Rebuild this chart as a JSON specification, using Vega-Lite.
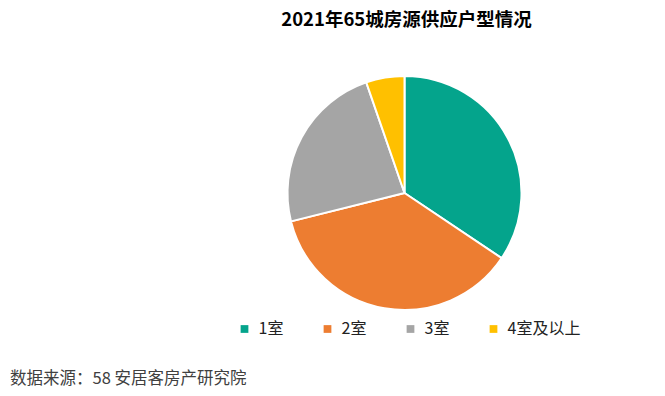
{
  "$schema": "https://vega.github.io/schema/vega-lite/v6.json",
  "autosize": {"type": "none"},
  "width": 330,
  "height": 234,
  "padding": {"left": 239.5, "top": 76, "right": 95.5, "bottom": 86},
  "background": "white",
  "config": {"view": {"stroke": null}, "font": "Noto Sans CJK SC"},
  "title": {
    "text": "2021年65城房源供应户型情况",
    "fontSize": 18.5,
    "fontWeight": "bold",
    "font": "Noto Sans CJK SC",
    "color": "#000000",
    "anchor": "middle",
    "frame": "group",
    "dx": 2,
    "offset": 43
  },
  "layer": [
    {
      "data": {
        "values": [
          {"type": "1室", "share": 34.4, "order": 1},
          {"type": "2室", "share": 36.7, "order": 2},
          {"type": "3室", "share": 23.6, "order": 3},
          {"type": "4室及以上", "share": 5.3, "order": 4}
        ]
      },
      "mark": {"type": "arc", "stroke": "white", "strokeWidth": 2},
      "encoding": {
        "theta": {"field": "share", "type": "quantitative", "stack": true},
        "order": {"field": "order", "type": "quantitative"},
        "color": {
          "field": "type",
          "type": "nominal",
          "sort": ["1室", "2室", "3室", "4室及以上"],
          "scale": {
            "domain": ["1室", "2室", "3室", "4室及以上"],
            "range": ["#04A48C", "#ED7D31", "#A5A5A5", "#FFC000"]
          },
          "legend": {
            "title": null,
            "orient": "none",
            "direction": "horizontal",
            "legendX": -3,
            "legendY": 245,
            "symbolType": "square",
            "symbolSize": 60,
            "symbolStrokeWidth": 0,
            "labelFontSize": 16,
            "labelFont": "Noto Sans CJK SC",
            "labelColor": "#222222",
            "labelOffset": 6,
            "gridAlign": "each",
            "columnPadding": 36
          }
        }
      }
    },
    {
      "data": {"values": [{"note": "数据来源：58 安居客房产研究院"}]},
      "mark": {"type": "text", "align": "left", "baseline": "alphabetic", "fontSize": 16.5, "font": "Noto Sans CJK SC", "color": "#404040"},
      "encoding": {
        "text": {"field": "note"},
        "x": {"value": -229.5},
        "y": {"value": 308}
      }
    }
  ]
}
